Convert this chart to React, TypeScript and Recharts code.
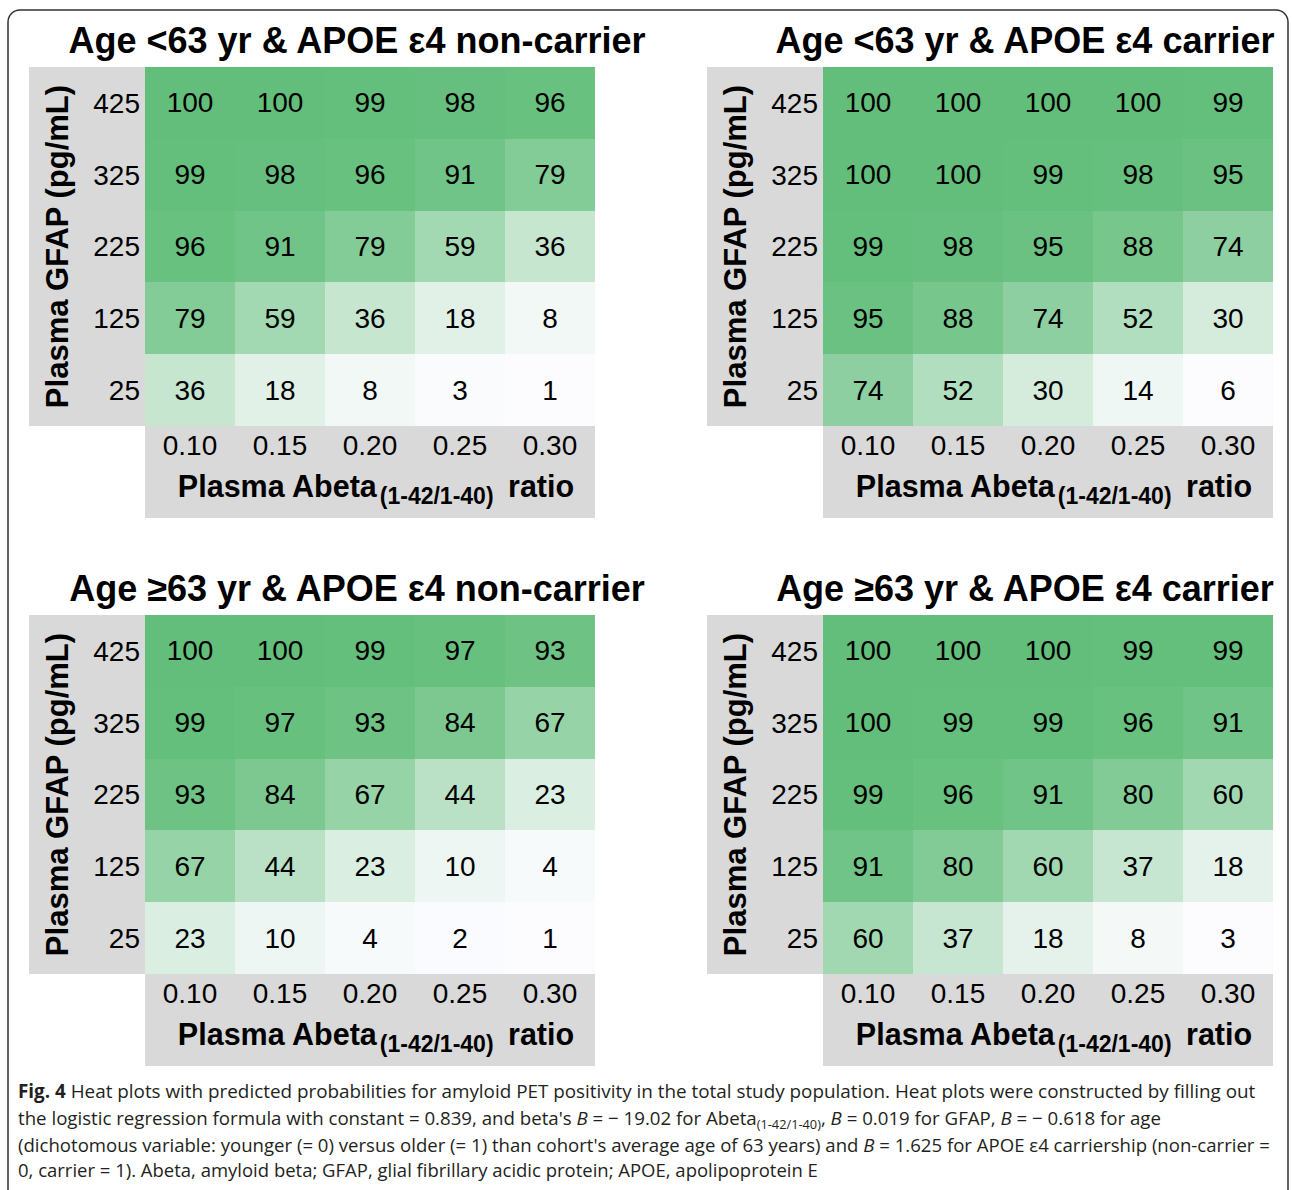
import React from 'react';
import { ScatterChart, Scatter, XAxis, YAxis } from 'recharts';

// Plasma Abeta(1-42/1-40) ratio (columns) and plasma GFAP pg/mL (rows, top to bottom)
const ABETA = [0.1, 0.15, 0.2, 0.25, 0.3];
const GFAP = [425, 325, 225, 125, 25];

// predicted probability (%) of amyloid PET positivity, rows follow GFAP
const YOUNG_NONCARRIER = [
  [100, 100, 99, 98, 96],
  [99, 98, 96, 91, 79],
  [96, 91, 79, 59, 36],
  [79, 59, 36, 18, 8],
  [36, 18, 8, 3, 1],
];
const YOUNG_CARRIER = [
  [100, 100, 100, 100, 99],
  [100, 100, 99, 98, 95],
  [99, 98, 95, 88, 74],
  [95, 88, 74, 52, 30],
  [74, 52, 30, 14, 6],
];
const OLD_NONCARRIER = [
  [100, 100, 99, 97, 93],
  [99, 97, 93, 84, 67],
  [93, 84, 67, 44, 23],
  [67, 44, 23, 10, 4],
  [23, 10, 4, 2, 1],
];
const OLD_CARRIER = [
  [100, 100, 100, 99, 99],
  [100, 99, 99, 96, 91],
  [99, 96, 91, 80, 60],
  [91, 80, 60, 37, 18],
  [60, 37, 18, 8, 3],
];

const TITLES = [
  'Age <63 yr & APOE \u03b54 non-carrier',
  'Age <63 yr & APOE \u03b54 carrier',
  'Age \u226563 yr & APOE \u03b54 non-carrier',
  'Age \u226563 yr & APOE \u03b54 carrier',
];

const CHART_W = 566;
const CHART_H = 451;
const Y_AXIS_W = 116;
const X_AXIS_H = 92;
const PLOT_W = CHART_W - Y_AXIS_W;
const PLOT_H = CHART_H - X_AXIS_H;
const CELL_W = PLOT_W / ABETA.length;
const CELL_H = PLOT_H / GFAP.length;

const GREY = '#d9d9d9';
const LOW = [252, 252, 255];
const HIGH = [99, 190, 123];
const FONT = '"Liberation Sans", Arial, sans-serif';

function scaleColor(v: number, min: number, max: number) {
  const t = max === min ? 1 : (v - min) / (max - min);
  const c = LOW.map((l, i) => Math.round(l + t * (HIGH[i] - l)));
  return `rgb(${c[0]},${c[1]},${c[2]})`;
}

const renderXTitle = (props: any) => {
  const vb = props?.viewBox ?? { x: Y_AXIS_W, y: PLOT_H, width: PLOT_W, height: X_AXIS_H };
  return (
    <text x={vb.x + vb.width / 2 + 6} y={vb.y + 71} textAnchor="middle" fill="#000" fontWeight="bold" fontSize={30.5}>
      Plasma Abeta
      <tspan fontSize={23} dx={3} dy={7}>(1-42/1-40)</tspan>
      <tspan dx={6} dy={-7}> ratio</tspan>
    </text>
  );
};

const renderYTitle = (props: any) => {
  const vb = props?.viewBox ?? { x: 0, y: 0, width: Y_AXIS_W, height: PLOT_H };
  const x = vb.x + 28;
  const y = vb.y + vb.height / 2;
  return (
    <text
      x={x}
      y={y}
      transform={`rotate(-90, ${x}, ${y})`}
      textAnchor="middle"
      dominantBaseline="central"
      fill="#000"
      fontWeight="bold"
      fontSize={31}
    >
      Plasma GFAP (pg/mL)
    </text>
  );
};

function HeatPanel({ values, left, top }: { values: number[][]; left: number; top: number }) {
  const flat = values.flat();
  const min = Math.min(...flat);
  const max = Math.max(...flat);
  const data = GFAP.flatMap((g, i) => ABETA.map((a, j) => ({ abeta: a, gfap: g, p: values[i][j] })));

  const renderCell = (props: any) => {
    const { cx, cy, payload } = props;
    return (
      <g>
        <rect
          x={cx - CELL_W / 2}
          y={cy - CELL_H / 2}
          width={CELL_W}
          height={CELL_H}
          fill={scaleColor(payload.p, min, max)}
          shapeRendering="crispEdges"
        />
        <text x={cx} y={cy} textAnchor="middle" dominantBaseline="central" fontSize={28} fill="#000">
          {payload.p}
        </text>
      </g>
    );
  };

  return (
    <div style={{ position: 'absolute', left, top, width: CHART_W, height: CHART_H }}>
      <div style={{ position: 'absolute', left: 0, top: 0, width: Y_AXIS_W, height: PLOT_H, background: GREY }} />
      <div style={{ position: 'absolute', left: Y_AXIS_W, top: PLOT_H, width: PLOT_W, height: X_AXIS_H, background: GREY }} />
      <div style={{ position: 'absolute', left: 0, top: 0 }}>
        <ScatterChart width={CHART_W} height={CHART_H} margin={{ top: 0, right: 0, bottom: 0, left: 0 }}>
          <XAxis
            type="number"
            dataKey="abeta"
            domain={[0.075, 0.325]}
            ticks={ABETA}
            interval={0}
            tickFormatter={(v: number) => v.toFixed(2)}
            height={X_AXIS_H}
            axisLine={false}
            tickLine={false}
            tickSize={0}
            tickMargin={9}
            tick={{ fill: '#000', fontSize: 28 }}
            label={renderXTitle}
          />
          <YAxis
            type="number"
            dataKey="gfap"
            domain={[-25, 475]}
            ticks={GFAP}
            interval={0}
            width={Y_AXIS_W}
            axisLine={false}
            tickLine={false}
            tickSize={0}
            tickMargin={5}
            tick={{ fill: '#000', fontSize: 28 }}
            label={renderYTitle}
          />
          <Scatter data={data} shape={renderCell} isAnimationActive={false} />
        </ScatterChart>
      </div>
    </div>
  );
}

const captionLine = (top: number, squeeze: number): React.CSSProperties => ({
  position: 'absolute',
  left: 18,
  top,
  lineHeight: '27px',
  height: 27,
  whiteSpace: 'nowrap',
  fontFamily: '"Open Sans", sans-serif',
  fontSize: 19,
  color: '#231f20',
  transform: `scaleX(${squeeze})`,
  transformOrigin: 'left center',
});

const sub: React.CSSProperties = { fontSize: 13, verticalAlign: -4, lineHeight: 0 };

export default function App() {
  return (
    <div
      style={{
        position: 'absolute',
        left: 0,
        top: 0,
        width: 1292,
        height: 1190,
        overflow: 'hidden',
        background: '#fff',
        fontFamily: FONT,
      }}
    >
      <svg width={1292} height={1190} style={{ position: 'absolute', left: 0, top: 0 }}>
        <rect x={8} y={10} width={1280} height={1260} rx={12} fill="none" stroke="#333" strokeWidth={1.5} />
        <g fontFamily={FONT} fontWeight="bold" fontSize={36} fill="#000" textAnchor="middle">
          <text x={357} y={53}>{TITLES[0]}</text>
          <text x={1025} y={53}>{TITLES[1]}</text>
          <text x={357} y={601}>{TITLES[2]}</text>
          <text x={1025} y={601}>{TITLES[3]}</text>
        </g>
      </svg>
      <HeatPanel values={YOUNG_NONCARRIER} left={29} top={67} />
      <HeatPanel values={YOUNG_CARRIER} left={707} top={67} />
      <HeatPanel values={OLD_NONCARRIER} left={29} top={615} />
      <HeatPanel values={OLD_CARRIER} left={707} top={615} />

      <div style={captionLine(1078, 0.992)}>
        <b>Fig. 4</b> Heat plots with predicted probabilities for amyloid PET positivity in the total study population.
        Heat plots were constructed by filling out
      </div>
      <div style={captionLine(1105, 0.982)}>
        the logistic regression formula with constant = 0.839, and beta's <i>B</i> = {'\u2212'} 19.02 for Abeta
        <span style={sub}>(1-42/1-40)</span>, <i>B</i> = 0.019 for GFAP, <i>B</i> = {'\u2212'} 0.618 for age
      </div>
      <div style={captionLine(1132, 0.978)}>
        (dichotomous variable: younger (= 0) versus older (= 1) than cohort's average age of 63 years) and <i>B</i> =
        1.625 for APOE {'\u03b5'}4 carriership (non-carrier =
      </div>
      <div style={captionLine(1157, 0.973)}>
        0, carrier = 1). Abeta, amyloid beta; GFAP, glial fibrillary acidic protein; APOE, apolipoprotein E
      </div>
    </div>
  );
}
